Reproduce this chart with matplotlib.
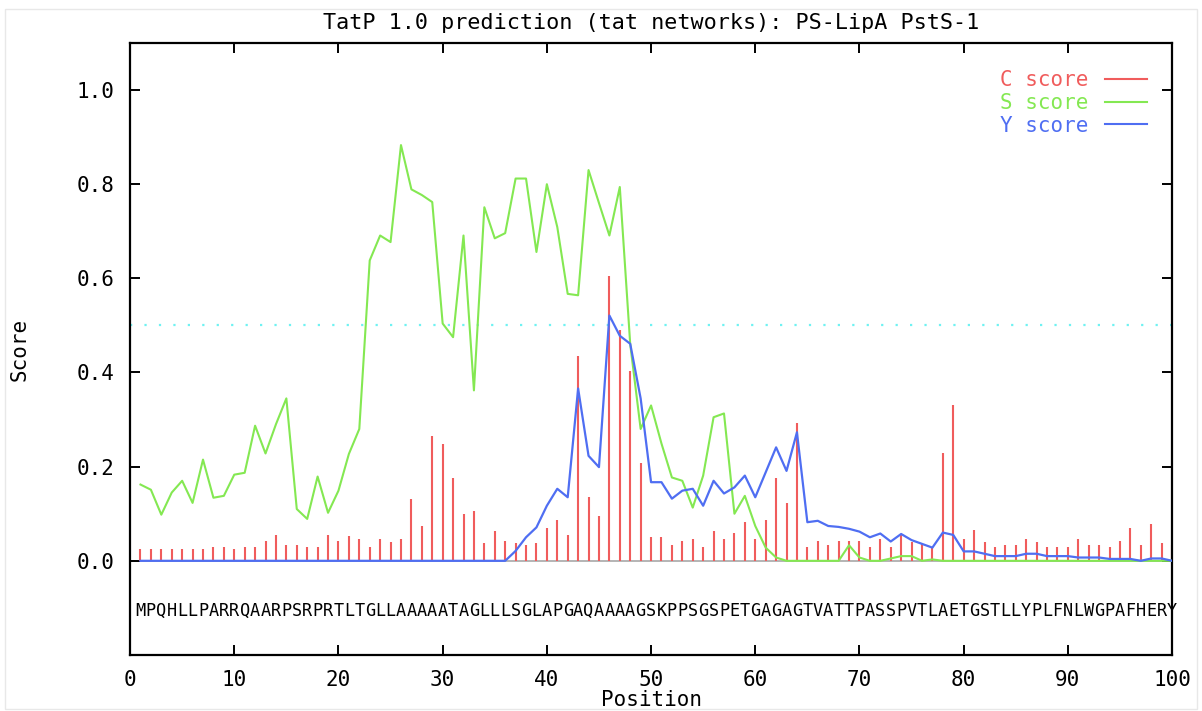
import matplotlib
matplotlib.use("Agg")
import matplotlib.pyplot as plt
from matplotlib.lines import Line2D
from matplotlib.patches import Rectangle

sequence = "MPQHLLPARRQAARPSRPRTLTGLLAAAAATAGLLLSGLAPGAQAAAAGSKPPSGSPETGAGAGTVATTPASSPVTLAETGSTLLYPLFNLWGPAFHERY"
positions = list(range(1, 101))

c_score = [
    0.025, 0.025, 0.025, 0.025, 0.025, 0.025, 0.025, 0.030, 0.030, 0.025,
    0.030, 0.030, 0.043, 0.055, 0.034, 0.034, 0.030, 0.030, 0.055, 0.043,
    0.052, 0.047, 0.030, 0.047, 0.039, 0.047, 0.131, 0.073, 0.266, 0.248,
    0.176, 0.099, 0.105, 0.037, 0.064, 0.043, 0.037, 0.034, 0.037, 0.069,
    0.087, 0.055, 0.434, 0.136, 0.096, 0.606, 0.490, 0.404, 0.208, 0.051,
    0.051, 0.033, 0.043, 0.047, 0.030, 0.064, 0.047, 0.060, 0.082, 0.047,
    0.087, 0.176, 0.123, 0.292, 0.030, 0.043, 0.033, 0.043, 0.043, 0.043,
    0.030, 0.047, 0.030, 0.058, 0.039, 0.035, 0.028, 0.230, 0.332, 0.047,
    0.065, 0.039, 0.030, 0.034, 0.034, 0.047, 0.039, 0.030, 0.030, 0.030,
    0.047, 0.034, 0.034, 0.030, 0.043, 0.070, 0.034, 0.078, 0.038, 0.033,
]

s_score = [
    0.162, 0.151, 0.098, 0.145, 0.170, 0.123, 0.215, 0.134, 0.138, 0.183,
    0.187, 0.287, 0.228, 0.290, 0.345, 0.110, 0.089, 0.179, 0.102, 0.149,
    0.227, 0.280, 0.638, 0.691, 0.677, 0.883, 0.789, 0.777, 0.762, 0.504,
    0.475, 0.691, 0.362, 0.751, 0.685, 0.696, 0.812, 0.812, 0.656, 0.800,
    0.709, 0.567, 0.564, 0.830, 0.760, 0.691, 0.794, 0.460, 0.280, 0.330,
    0.249, 0.177, 0.170, 0.113, 0.181, 0.305, 0.313, 0.100, 0.138, 0.074,
    0.028, 0.007, 0.000, 0.000, 0.000, 0.000, 0.000, 0.000, 0.033, 0.007,
    0.000, 0.000, 0.005, 0.010, 0.010, 0.000, 0.003, 0.000, 0.000, 0.000,
    0.000, 0.000, 0.000, 0.000, 0.000, 0.000, 0.000, 0.000, 0.000, 0.000,
    0.000, 0.000, 0.000, 0.000, 0.000, 0.000, 0.000, 0.000, 0.000, 0.000,
]

y_score = [
    0.000, 0.000, 0.000, 0.000, 0.000, 0.000, 0.000, 0.000, 0.000, 0.000,
    0.000, 0.000, 0.000, 0.000, 0.000, 0.000, 0.000, 0.000, 0.000, 0.000,
    0.000, 0.000, 0.000, 0.000, 0.000, 0.000, 0.000, 0.000, 0.000, 0.000,
    0.000, 0.000, 0.000, 0.000, 0.000, 0.000, 0.021, 0.050, 0.071, 0.117,
    0.153, 0.135, 0.366, 0.223, 0.199, 0.521, 0.478, 0.461, 0.345, 0.167,
    0.167, 0.132, 0.149, 0.153, 0.117, 0.170, 0.143, 0.156, 0.181, 0.135,
    0.188, 0.241, 0.191, 0.273, 0.082, 0.085, 0.074, 0.072, 0.068, 0.062,
    0.050, 0.058, 0.041, 0.057, 0.044, 0.036, 0.028, 0.060, 0.055, 0.020,
    0.020, 0.015, 0.010, 0.010, 0.010, 0.015, 0.015, 0.010, 0.010, 0.010,
    0.007, 0.007, 0.007, 0.004, 0.004, 0.004, 0.000, 0.005, 0.005, 0.000,
]

threshold = 0.5

red = "#f05c5c"
green = "#84e852"
blue = "#4f6ef2"
mono = "DejaVu Sans Mono"

fig = plt.figure(figsize=(12.02, 7.11), dpi=100)
fig.patches.append(Rectangle((0.004, 0.003), 0.992, 0.984, transform=fig.transFigure,
                             fill=False, edgecolor="#e8e8e8", linewidth=1))
ax = fig.add_axes([0.1082, 0.0788, 0.8669, 0.8608])

ax.axhline(0, color="#a8a8a8", linewidth=1.2, zorder=1)
ax.axhline(threshold, color="#6ff2f2", linewidth=1.6, linestyle=(0, (1, 5.5)), zorder=1)
ax.vlines(positions, 0, c_score, color=red, linewidth=1.5, zorder=2)
ax.plot(positions, s_score, color=green, linewidth=1.5, zorder=3)
ax.plot(positions, y_score, color=blue, linewidth=1.6, zorder=4)

# one residue letter under each position
for p, ch in zip(positions, sequence):
    ax.text(p, -0.106, ch, ha="center", va="center", fontsize=12.2, family=mono)

ax.set_xlim(0, 100)
ax.set_ylim(-0.2, 1.1)
ax.set_xticks(range(0, 101, 10))
ax.set_yticks([0.0, 0.2, 0.4, 0.6, 0.8, 1.0])
ax.set_yticklabels(["0.0", "0.2", "0.4", "0.6", "0.8", "1.0"])
ax.tick_params(direction="in", length=7, width=1.4, top=True, right=True,
               labelsize=15, pad=11)
for lab in ax.get_xticklabels() + ax.get_yticklabels():
    lab.set_family(mono)
for sp in ax.spines.values():
    sp.set_linewidth(1.6)

ax.set_title("TatP 1.0 prediction (tat networks): PS-LipA PstS-1",
             family=mono, fontsize=15.7, pad=10)
ax.set_xlabel("Position", family=mono, fontsize=15, labelpad=0)
ax.set_ylabel("Score", family=mono, fontsize=15, labelpad=34)

handles = [Line2D([], [], color=red, linewidth=1.5),
           Line2D([], [], color=green, linewidth=1.5),
           Line2D([], [], color=blue, linewidth=1.5)]
ax.legend(handles, ["C score", "S score", "Y score"], loc="upper right",
          bbox_to_anchor=(0.984, 0.969), frameon=False, markerfirst=False,
          labelcolor="linecolor", prop={"family": mono, "size": 15},
          handlelength=2.0, handletextpad=0.8, labelspacing=0.13,
          borderaxespad=0)

fig.savefig("out.png", dpi=100)
